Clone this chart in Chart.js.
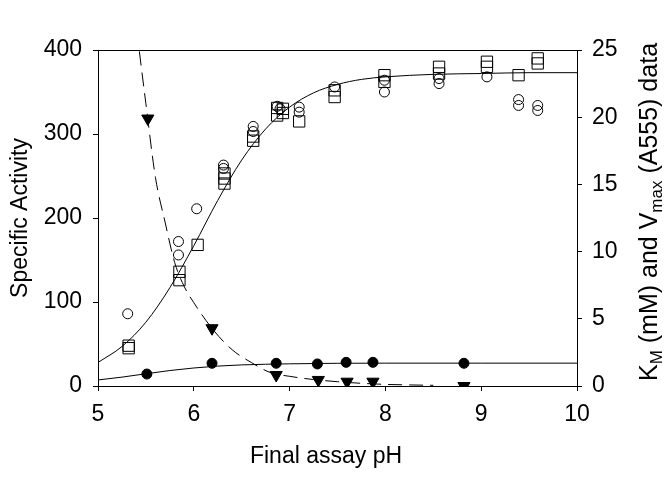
<!DOCTYPE html>
<html>
<head>
<meta charset="utf-8">
<script src="https://cdn.jsdelivr.net/npm/chart.js@4.4.1/dist/chart.umd.min.js"></script>
<style>
  body { margin: 0; background: #fff; }
  #wrap { width: 672px; height: 480px; }
</style>
</head>
<body>
<div id="wrap"><canvas id="myChart" width="672" height="480"></canvas></div>
<script>
// open circles - specific activity
var circPh = [5.31, 5.84, 5.84, 6.03, 6.31, 6.31, 6.62, 6.62, 6.87, 6.90, 7.10, 7.10, 7.47, 7.99, 7.99, 8.56, 8.56, 9.06, 9.39, 9.39, 9.59, 9.59];
var circSa = [86, 172, 156, 211, 263, 259, 309, 303, 333, 330, 332, 326, 356, 350, 364, 366, 360, 368, 341, 334, 334, 328];

// open squares - specific activity
var sqPh = [5.32, 5.32, 5.85, 5.85, 6.04, 6.32, 6.32, 6.32, 6.62, 6.62, 6.87, 6.87, 6.93, 6.93, 7.10, 7.47, 7.47, 7.99, 7.99, 8.56, 8.56, 9.06, 9.06, 9.39, 9.59, 9.59];
var sqSa = [48, 45, 136, 126, 168, 253, 247, 241, 297, 292, 331, 322, 330, 325, 315, 352, 344, 370, 362, 380, 372, 386, 380, 370, 390, 384];

// filled triangles - KM (right axis)
var kmPh = [5.52, 6.19, 6.86, 7.30, 7.60, 7.87, 8.82];
var kmVals = [19.9, 4.3, 0.82, 0.45, 0.32, 0.32, 0];

// filled circles - Vmax (right axis)
var vmPh = [5.51, 6.19, 6.86, 7.29, 7.59, 7.87, 8.82];
var vmVals = [0.89, 1.69, 1.69, 1.64, 1.76, 1.76, 1.69];

// fitted curves
var saFitPh = [5, 5.25, 5.5, 5.75, 6, 6.25, 6.5, 6.75, 7, 7.25, 7.5, 7.75, 8, 8.5, 9, 9.5, 10];
var saFit = [28, 47, 76, 117, 167, 221, 269, 306, 332, 349, 359, 365, 368, 371, 372, 373, 373];

var vmFitPh = [5, 5.25, 5.5, 5.75, 6, 6.25, 6.5, 7, 7.5, 8, 9, 10];
var vmFit = [0.45, 0.66, 0.91, 1.15, 1.34, 1.48, 1.57, 1.65, 1.69, 1.70, 1.70, 1.70];

var kmFitPh = [5.38, 5.43, 5.5, 5.6, 5.7, 5.8, 5.9, 6.0, 6.2, 6.4, 6.6, 6.8, 7.0, 7.25, 7.5, 7.75, 8.0, 8.25, 8.5];
var kmFit = [28, 25, 21, 15.5, 12.2, 9.2, 7.4, 6.2, 4.2, 2.7, 1.75, 1.0, 0.72, 0.48, 0.32, 0.2, 0.12, 0.08, 0.05];

// tick labels
var xTicks = [5, 6, 7, 8, 9, 10];
var yTicks = [0, 100, 200, 300, 400];
var y2Ticks = [0, 5, 10, 15, 20, 25];

var xTitle = 'Final assay pH';
var yTitle = 'Specific Activity';

function pts(xs, ys) {
  return xs.map(function (x, i) { return { x: x, y: ys[i] }; });
}

var fontFam = "'Liberation Sans', Arial, sans-serif";
var tickFont = { family: fontFam, size: 23 };

// top frame line + axis titles
const framePlugin = {
  id: 'frame',
  afterDraw(chart) {
    const ctx = chart.ctx;
    const a = chart.chartArea;
    ctx.save();
    ctx.strokeStyle = '#000';
    ctx.lineWidth = 1;
    ctx.beginPath();
    ctx.moveTo(a.left, Math.round(a.top) + 0.5);
    ctx.lineTo(a.right, Math.round(a.top) + 0.5);
    ctx.stroke();

    ctx.fillStyle = '#000';
    ctx.font = '23px ' + fontFam;
    ctx.textAlign = 'center';
    ctx.textBaseline = 'alphabetic';
    ctx.fillText(xTitle, 326, 463);

    const cy = (a.top + a.bottom) / 2;
    ctx.save();
    ctx.translate(27, cy);
    ctx.rotate(-Math.PI / 2);
    ctx.fillText(yTitle, 0, 0);
    ctx.restore();

    // right title with subscripts
    const parts = [['K', 0], ['M', 1], [' (mM) and V', 0], ['max', 1], [' (A555) data', 0]];
    const big = '25px ' + fontFam, small = '17px ' + fontFam;
    let total = 0;
    parts.forEach(function (p) {
      ctx.font = p[1] ? small : big;
      total += ctx.measureText(p[0]).width;
    });
    ctx.save();
    ctx.translate(657, cy - 6);
    ctx.rotate(-Math.PI / 2);
    ctx.textAlign = 'left';
    let px = -total / 2;
    parts.forEach(function (p) {
      ctx.font = p[1] ? small : big;
      ctx.fillText(p[0], px, p[1] ? 5 : 0);
      px += ctx.measureText(p[0]).width;
    });
    ctx.restore();
    ctx.restore();
  }
};

function axisGrid() {
  return { display: true, drawOnChartArea: false, drawTicks: true, tickLength: 5, color: '#000', lineWidth: 1 };
}

const ctx = document.getElementById('myChart');
const chart = new Chart(ctx, {
  type: 'scatter',
  data: {
    datasets: [
      {
        label: 'open circles',
        data: pts(circPh, circSa),
        yAxisID: 'y',
        pointStyle: 'circle',
        pointRadius: 5,
        borderColor: '#000',
        backgroundColor: 'rgba(0,0,0,0)',
        borderWidth: 1
      },
      {
        label: 'open squares',
        data: pts(sqPh, sqSa),
        yAxisID: 'y',
        pointStyle: 'rect',
        pointRadius: 8,
        borderColor: '#000',
        backgroundColor: 'rgba(0,0,0,0)',
        borderWidth: 1
      },
      {
        label: 'KM',
        data: pts(kmPh, kmVals),
        yAxisID: 'y2',
        pointStyle: 'triangle',
        rotation: 180,
        pointRadius: 7,
        borderColor: '#000',
        backgroundColor: '#000',
        borderWidth: 1
      },
      {
        label: 'Vmax',
        data: pts(vmPh, vmVals),
        yAxisID: 'y2',
        pointStyle: 'circle',
        pointRadius: 5,
        borderColor: '#000',
        backgroundColor: '#000',
        borderWidth: 1
      },
      {
        label: 'fit SA',
        data: pts(saFitPh, saFit),
        yAxisID: 'y',
        showLine: true,
        cubicInterpolationMode: 'monotone',
        pointRadius: 0,
        borderColor: '#000',
        borderWidth: 1
      },
      {
        label: 'fit Vmax',
        data: pts(vmFitPh, vmFit),
        yAxisID: 'y2',
        showLine: true,
        cubicInterpolationMode: 'monotone',
        pointRadius: 0,
        borderColor: '#000',
        borderWidth: 1
      },
      {
        label: 'fit KM',
        data: pts(kmFitPh, kmFit),
        yAxisID: 'y2',
        showLine: true,
        cubicInterpolationMode: 'monotone',
        pointRadius: 0,
        borderColor: '#000',
        borderWidth: 1,
        borderDash: [14, 7]
      }
    ]
  },
  options: {
    responsive: false,
    animation: false,
    layout: { padding: { top: 50, left: 0, right: 0, bottom: 0 } },
    plugins: {
      legend: { display: false },
      tooltip: { enabled: false }
    },
    scales: {
      x: {
        type: 'linear',
        min: 5,
        max: 10,
        afterBuildTicks: function (s) { s.ticks = xTicks.map(function (v) { return { value: v }; }); },
        ticks: { font: tickFont, color: '#000', padding: 10, maxRotation: 0 },
        grid: axisGrid(),
        border: { display: true, color: '#000', width: 1 },
        afterFit: function (s) { s.height = 94; }
      },
      y: {
        position: 'left',
        min: 0,
        max: 400,
        afterBuildTicks: function (s) { s.ticks = yTicks.map(function (v) { return { value: v }; }); },
        ticks: { font: tickFont, color: '#000', padding: 11 },
        grid: axisGrid(),
        border: { display: true, color: '#000', width: 1 },
        afterFit: function (s) { s.width = 98; }
      },
      y2: {
        position: 'right',
        min: 0,
        max: 25,
        afterBuildTicks: function (s) { s.ticks = y2Ticks.map(function (v) { return { value: v }; }); },
        ticks: { font: tickFont, color: '#000', padding: 10 },
        grid: axisGrid(),
        border: { display: true, color: '#000', width: 1 },
        afterFit: function (s) { s.width = 95; }
      }
    }
  },
  plugins: [framePlugin]
});
</script>
</body>
</html>
